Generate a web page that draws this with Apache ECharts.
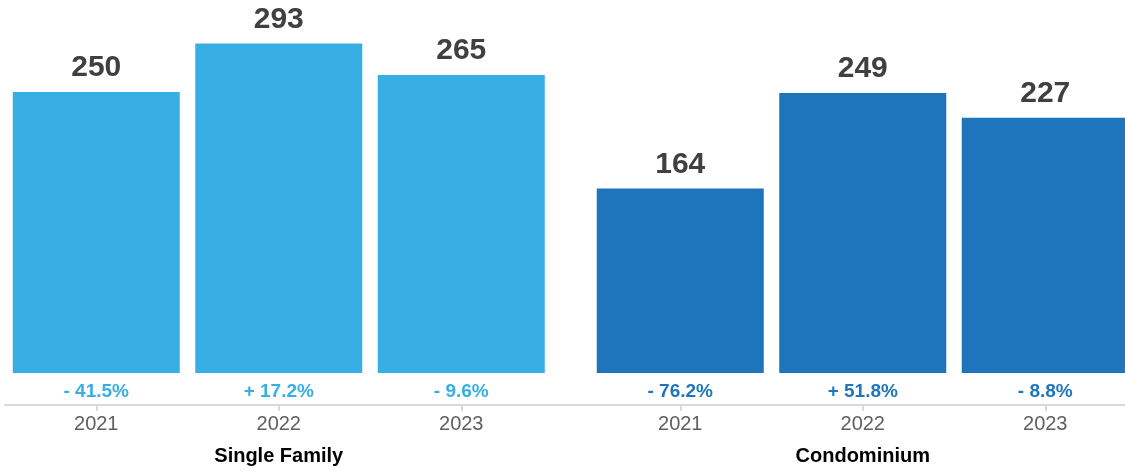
<!DOCTYPE html>
<html>
<head>
<meta charset="utf-8">
<script src="https://cdn.jsdelivr.net/npm/echarts@6/dist/echarts.min.js"></script>
<style>
html,body{margin:0;padding:0;background:#fff;}
#chart{width:1125px;height:471px;}
</style>
</head>
<body>
<div id="chart"></div>
<script>
const years = ['2021', '2022', '2023'];
const groups = ['Single Family', 'Condominium'];
const singleFamily = [250, 293, 265];
const condominium = [164, 249, 227];
const singleFamilyChange = ['- 41.5%', '+ 17.2%', '- 9.6%'];
const condominiumChange = ['- 76.2%', '+ 51.8%', '- 8.8%'];

const FONT = '"Liberation Sans", Arial, Helvetica, sans-serif';
const LIGHT = '#38AFE4';
const DARK = '#1F75BB';
const AXIS_COLOR = '#d9d9d9';
const BAND = 182.5;

const chart = echarts.init(document.getElementById('chart'), null, {renderer: 'canvas'});

function barSeries(data, color, idx) {
  return {
    type: 'bar', xAxisIndex: idx, yAxisIndex: idx, data: data, barWidth: 167,
    itemStyle: {color: color},
    label: {show: true, position: 'top', distance: 9,
            fontFamily: FONT, fontWeight: 'bold', fontSize: 30, color: '#404040'},
    silent: true
  };
}

function barXAxis(idx) {
  return {type: 'category', gridIndex: idx, data: years,
          axisLine: {show: false}, axisTick: {show: false}, axisLabel: {show: false}};
}

function labelBottomAxis(idx, name) {
  return {
    type: 'category', gridIndex: idx, position: 'bottom', data: years,
    axisLine: {show: false},
    axisTick: {show: true, alignWithLabel: true, length: 6, lineStyle: {color: AXIS_COLOR, width: 2}},
    axisLabel: {show: true, margin: 9, fontFamily: FONT, fontSize: 20, color: '#606060'},
    name: name, nameLocation: 'middle', nameGap: 41,
    nameTextStyle: {fontFamily: FONT, fontSize: 20, fontWeight: 'bold', color: '#000'}
  };
}

function labelTopAxis(idx, changes, color) {
  return {
    type: 'category', gridIndex: idx, position: 'top', data: changes,
    axisLine: {show: false}, axisTick: {show: false},
    axisLabel: {show: true, inside: true, margin: 9, fontFamily: FONT, fontSize: 19, fontWeight: 'bold', color: color}
  };
}

const g = (o) => Object.assign({outerBoundsMode: 'none', containLabel: false}, o);

const option = {
  animation: false,
  backgroundColor: '#fff',
  grid: [
    g({left: 5, width: BAND * 3, top: 2, bottom: 98}),
    g({left: 589, width: BAND * 3, top: 2, bottom: 98}),
    g({left: 5, width: BAND * 3, top: 373, bottom: 66}),
    g({left: 589, width: BAND * 3, top: 373, bottom: 66}),
    g({left: 5, right: 0, top: 373, bottom: 66})
  ],
  xAxis: [
    barXAxis(0),
    barXAxis(1),
    labelBottomAxis(2, groups[0]),
    labelBottomAxis(3, groups[1]),
    {type: 'value', gridIndex: 4, min: 0, max: 1, position: 'bottom',
     axisLine: {show: true, lineStyle: {color: AXIS_COLOR, width: 2}},
     axisTick: {show: false}, axisLabel: {show: false}, splitLine: {show: false}},
    labelTopAxis(2, singleFamilyChange, LIGHT),
    labelTopAxis(3, condominiumChange, DARK)
  ],
  yAxis: [
    {type: 'value', gridIndex: 0, min: 0, max: 330, show: false},
    {type: 'value', gridIndex: 1, min: 0, max: 330, show: false},
    {type: 'value', gridIndex: 2, show: false},
    {type: 'value', gridIndex: 3, show: false},
    {type: 'value', gridIndex: 4, show: false}
  ],
  series: [
    barSeries(singleFamily, LIGHT, 0),
    barSeries(condominium, DARK, 1)
  ]
};

chart.setOption(option);
</script>
</body>
</html>
